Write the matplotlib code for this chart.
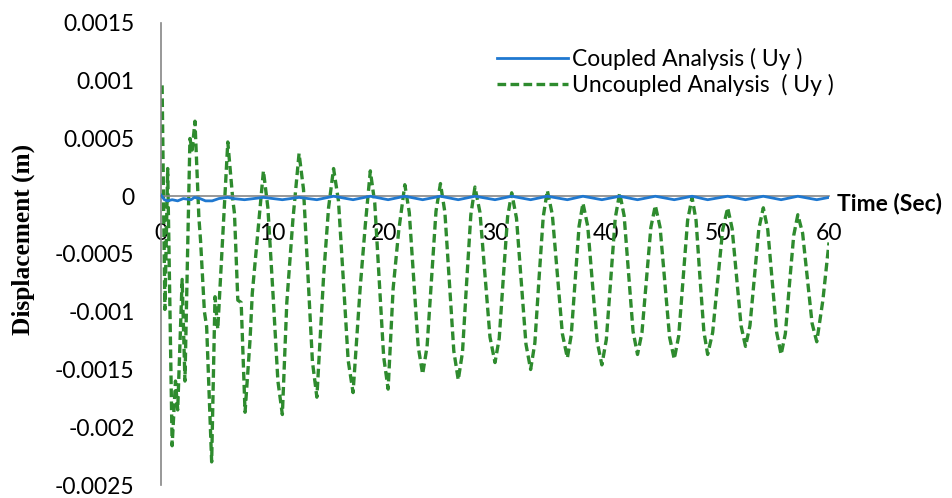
import numpy as np
import matplotlib
matplotlib.use("Agg")
import matplotlib.pyplot as plt

# time (s) and displacement (units of 1e-5 m)
t_unc = [0.1, 0.35, 0.6, 1.0, 1.3, 1.5, 1.9, 2.15, 2.6, 2.8, 3.05, 3.4, 3.55, 3.9, 4.1,
         4.55, 4.85, 5.1, 6.0, 6.45, 6.6, 6.9, 7.2, 7.55, 8.0, 8.2, 9.2, 9.6, 10.05, 10.5,
         10.9, 11.3, 11.85, 12.4, 12.8, 13.2, 13.6, 14.0, 14.6, 15.05, 15.5, 15.94, 16.38,
         16.81, 17.25, 17.9, 18.35, 18.8, 19.2, 19.6, 20.0, 20.4, 20.85, 21.35, 21.9,
         22.3, 22.7, 23.1, 23.5, 23.9, 24.3, 24.7, 25.1, 25.5, 25.9, 26.3, 26.7,
         27.08, 27.45, 27.83, 28.2, 28.65, 29.1, 29.55, 30.0, 30.38, 30.75, 31.13, 31.5,
         31.93, 32.35, 32.78, 33.2, 33.58, 33.95, 34.33, 34.7, 35.15, 35.6, 36.05, 36.5,
         36.85, 37.2, 37.55, 37.9, 38.33, 38.75, 39.18, 39.6, 40.0, 40.4, 40.8, 41.2,
         41.6, 42.0, 42.4, 42.8, 43.2, 43.6, 44.0, 44.4, 44.83, 45.25, 45.68, 46.1,
         46.5, 46.9, 47.3, 47.7, 48.06, 48.4, 48.76, 49.1, 49.55, 50.0, 50.45, 50.9,
         51.3, 51.7, 52.1, 52.5, 52.9, 53.3, 53.7, 54.1, 54.5, 54.9, 55.3, 55.7,
         56.08, 56.45, 56.83, 57.2, 57.63, 58.05, 58.48, 58.9, 59.45, 60.0]
u_unc = [96, -98, 24, -216, -160, -185, -72, -160, 50, 40, 65, -18, -38, -100, -113,
         -230, -87, -115, 47, -3, -15, -90, -92, -187, -124, -84, 22, -10, -83, -160,
         -189, -92, -20, 37, 6, -68, -143, -174, -70, -10, 24, -4, -73,
         -142, -170, -78, -25, 22, -6, -72, -139, -167, -80, -30, 10,
         -14, -72, -130, -154, -130, -72, -13, 11, -14, -74, -134, -159,
         -135, -75, -16, 8, -14, -68, -122, -144, -123, -70, -18, 3,
         -19, -73, -128, -150, -127, -72, -18, 5, -16, -67, -119, -140,
         -120, -73, -26, -6, -26, -76, -126, -146, -124, -71, -19, 3,
         -17, -67, -117, -137, -118, -72, -27, -8, -27, -74, -122, -141,
         -121, -71, -21, -1, -21, -69, -117, -137, -118, -73, -29, -10,
         -28, -70, -112, -130, -112, -70, -28, -10, -29, -73, -118, -137,
         -119, -76, -34, -16, -32, -71, -110, -126, -90, -40]

t_cou = [0.0, 0.3, 0.6, 1.0, 1.5, 2.0, 2.7, 3.0, 3.5, 4.0, 4.6, 5.2, 6.0, 6.5, 7.5,
         9.2, 10.9, 12.4, 14.0, 15.5, 17.25, 18.8, 20.4, 21.9, 23.5, 25.1, 26.7, 28.2,
         30.0, 31.5, 33.2, 34.7, 36.5, 37.9, 39.6, 41.2, 42.8, 44.4, 46.1, 47.7, 49.1,
         50.9, 52.5, 54.1, 55.7, 57.2, 58.9, 60.0]
u_cou = [1, -3, -4, -3, -4, -2, -3, -1, -2, -4, -4, -2, -1, -2, -3,
         -1, -3, -1, -3, 0, -3, 0, -3, 0, -3, 0, -3, 0,
         -3, 0, -3, 0, -3, 0, -3, 0, -3, 0, -3, 0, -3,
         0, -3, 0, -3, 0, -3, -1]

plt.rcParams['font.family'] = ['Lato', 'DejaVu Sans']

fig = plt.figure(figsize=(9.52, 4.98), dpi=100)
ax = fig.add_axes([161 / 952, 1 - 485 / 498, 668 / 952, 462 / 498])

ax.plot(t_cou, np.array(u_cou) * 1e-5, color='#1F78D0', lw=2.0,
        label='Coupled Analysis ( Uy )', zorder=3)
ax.plot(t_unc, np.array(u_unc) * 1e-5, color='#2E8B2E', lw=2.4,
        dashes=(2.6, 1.3), label='Uncoupled Analysis  ( Uy )', zorder=2)

ax.set_xlim(0, 60)
ax.set_ylim(-0.0025, 0.0015)
ax.set_xticks([0, 10, 20, 30, 40, 50, 60])
ax.set_yticks([0.0015, 0.001, 0.0005, 0, -0.0005, -0.001, -0.0015, -0.002, -0.0025])
ax.set_yticklabels(['0.0015', '0.001', '0.0005', '0', '-0.0005', '-0.001',
                    '-0.0015', '-0.002', '-0.0025'])

for s in ['top', 'right']:
    ax.spines[s].set_visible(False)
ax.spines['bottom'].set_position(('data', 0))
ax.spines['bottom'].set_color('#868686')
ax.spines['left'].set_color('#868686')
ax.spines['bottom'].set_linewidth(1.2)
ax.spines['left'].set_linewidth(1.2)
ax.tick_params(axis='both', length=0, labelsize=16.5)
ax.tick_params(axis='x', pad=19)
ax.tick_params(axis='y', pad=19)

fig.text(23 / 952, 1 - 239 / 498, 'Displacement (m)', rotation=90, ha='center',
         va='center', family='Liberation Serif', fontweight='bold', fontsize=18.3)
fig.text(837 / 952, 1 - 204 / 498, 'Time (Sec)', ha='left', va='center',
         fontweight='bold', fontsize=16.5)

ax.legend(loc='upper left', bbox_to_anchor=(486 / 952, 1 - 36 / 498),
          bbox_transform=fig.transFigure, frameon=False, fontsize=16.5,
          handlelength=3.1, handletextpad=0.15, labelspacing=0.2, borderpad=0)

fig.savefig('out.png', dpi=100)
